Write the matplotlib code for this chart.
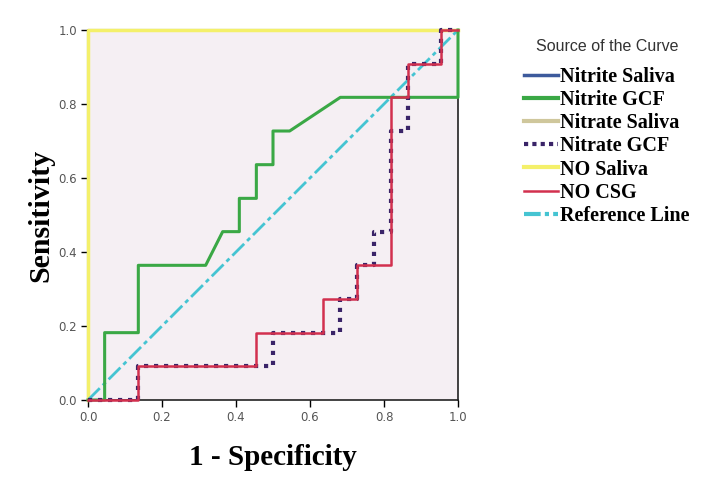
import numpy as np
import matplotlib
matplotlib.use("Agg")
import matplotlib.pyplot as plt
from matplotlib.lines import Line2D

# ROC curve coordinates (1 - specificity, sensitivity)
nitrite_gcf_x = [0, 0.045, 0.045, 0.136, 0.136, 0.318, 0.364, 0.409, 0.409, 0.455, 0.455, 0.5, 0.5, 0.545, 0.682, 1.0, 1.0]
nitrite_gcf_y = [0, 0, 0.182, 0.182, 0.364, 0.364, 0.455, 0.455, 0.545, 0.545, 0.636, 0.636, 0.727, 0.727, 0.818, 0.818, 1.0]

nitrate_gcf_x = [0, 0.136, 0.136, 0.5, 0.5, 0.682, 0.682, 0.727, 0.727, 0.773, 0.773, 0.818, 0.818, 0.864, 0.864, 0.955, 0.955, 1.0]
nitrate_gcf_y = [0, 0, 0.091, 0.091, 0.182, 0.182, 0.273, 0.273, 0.364, 0.364, 0.455, 0.455, 0.727, 0.727, 0.909, 0.909, 1.0, 1.0]

no_csg_x = [0, 0.136, 0.136, 0.455, 0.455, 0.636, 0.636, 0.727, 0.727, 0.818, 0.818, 0.864, 0.864, 0.955, 0.955, 1.0]
no_csg_y = [0, 0, 0.091, 0.091, 0.182, 0.182, 0.273, 0.273, 0.364, 0.364, 0.818, 0.818, 0.909, 0.909, 1.0, 1.0]

# saliva curves hug the frame (sensitivity 1 from the start)
saliva_x = [0, 0, 1.0]
saliva_y = [0, 1.0, 1.0]

ref_x = [0, 1]
ref_y = [0, 1]

ticks = [0.0, 0.2, 0.4, 0.6, 0.8, 1.0]

c_blue = "#3d5a9c"
c_green = "#3aa845"
c_tan = "#cfc79c"
c_purple = "#3a2468"
c_yellow = "#f4f06a"
c_red = "#d2304e"
c_cyan = "#45c4d2"

fig = plt.figure(figsize=(7.17, 4.78), dpi=100)
ax = fig.add_axes([88/717, 78/478, 370/717, 370/478])
ax.set_facecolor("#f5eff3")

ax.plot(saliva_x, saliva_y, color=c_blue, lw=1.5, clip_on=False, zorder=2)
ax.plot(saliva_x, saliva_y, color=c_tan, lw=2.0, clip_on=False, zorder=2.1)
ax.plot(saliva_x, saliva_y, color=c_yellow, lw=2.5, clip_on=False, zorder=2.2)
ax.plot(ref_x, ref_y, color=c_cyan, lw=2.0, linestyle=(0, (6, 1.5, 1.5, 1.5)), zorder=3)
ax.plot(nitrite_gcf_x, nitrite_gcf_y, color=c_green, lw=2.2, clip_on=False, zorder=4)
ax.plot(nitrate_gcf_x, nitrate_gcf_y, color=c_purple, lw=3.0, linestyle=(0, (1, 1.4)),
        dash_capstyle="butt", clip_on=False, zorder=5)
ax.plot(no_csg_x, no_csg_y, color=c_red, lw=1.8, clip_on=False, zorder=6)

ax.set_xlim(0, 1)
ax.set_ylim(0, 1)
ax.set_xticks(ticks)
ax.set_yticks(ticks)
ax.set_xticklabels(["%.1f" % t for t in ticks])
ax.set_yticklabels(["%.1f" % t for t in ticks])
ax.tick_params(direction="out", length=5, width=1, labelsize=8.5, labelcolor="#555555", pad=3)
for s in ax.spines.values():
    s.set_linewidth(1.2)
    s.set_color("#222222")
    s.set_zorder(1)

ax.set_xlabel("1 - Specificity", family="Liberation Serif", fontweight="bold", fontsize=21, labelpad=14)
ax.set_ylabel("Sensitivity", family="Liberation Serif", fontweight="bold", fontsize=21.5, labelpad=3)

handles = [
    Line2D([], [], color=c_blue, lw=2.5),
    Line2D([], [], color=c_green, lw=3),
    Line2D([], [], color=c_tan, lw=3),
    Line2D([], [], color=c_purple, lw=3, linestyle=(0, (1, 1))),
    Line2D([], [], color=c_yellow, lw=3),
    Line2D([], [], color=c_red, lw=1.8),
    Line2D([], [], color=c_cyan, lw=3, linestyle=(0, (4, 1, 1, 1))),
]
labels = ["Nitrite Saliva", "Nitrite GCF", "Nitrate Saliva", "Nitrate GCF",
          "NO Saliva", "NO CSG", "Reference Line"]
leg = fig.legend(handles, labels, loc="upper left", bbox_to_anchor=(506/717, 1 - 21/478),
                 frameon=False, handlelength=1.7, handletextpad=0.1, labelspacing=0.16,
                 title="Source of the Curve",
                 prop={"family": "Liberation Serif", "weight": "bold", "size": 14.5})
leg.get_title().set_fontsize(11.5)
leg.get_title().set_family("Liberation Sans")
leg.get_title().set_color("#333333")
leg._legend_box.align = "center"
leg._legend_box.sep = 9

fig.savefig("out.png", dpi=100)
